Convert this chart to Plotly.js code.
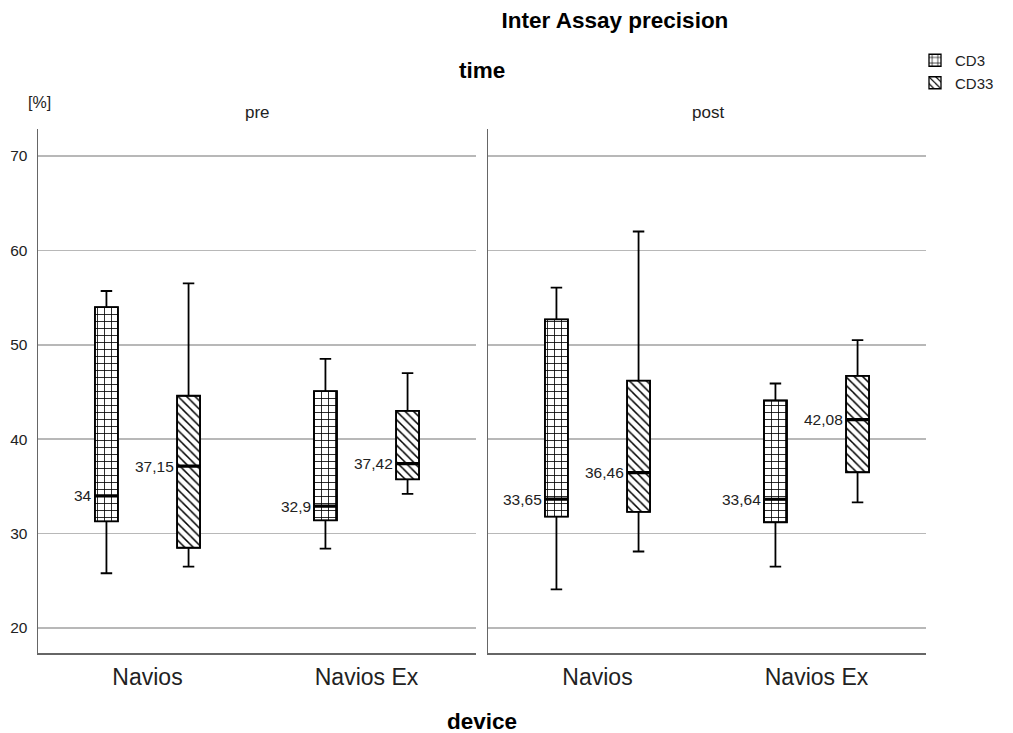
<!DOCTYPE html>
<html>
<head>
<meta charset="utf-8">
<script src="https://cdn.plot.ly/plotly-3.0.1.min.js"></script>
<style>html,body{margin:0;padding:0;background:#fff;}#chart{width:1013px;height:733px;}</style>
</head>
<body>
<div id="chart"></div>
<script>
// ---- data ----
const devices = ['Navios', 'Navios Ex'];
const markers = ['CD3', 'CD33'];
const times = ['pre', 'post'];

// pre, CD3
const preCD3_lower  = [25.8, 28.4];
const preCD3_q1     = [31.3, 31.4];
const preCD3_median = [34, 32.9];
const preCD3_q3     = [54.0, 45.1];
const preCD3_upper  = [55.7, 48.5];
// pre, CD33
const preCD33_lower  = [26.5, 34.2];
const preCD33_q1     = [28.5, 35.75];
const preCD33_median = [37.15, 37.42];
const preCD33_q3     = [44.6, 43.0];
const preCD33_upper  = [56.5, 47.0];
// post, CD3
const postCD3_lower  = [24.1, 26.5];
const postCD3_q1     = [31.8, 31.2];
const postCD3_median = [33.65, 33.64];
const postCD3_q3     = [52.7, 44.1];
const postCD3_upper  = [56.05, 45.9];
// post, CD33
const postCD33_lower  = [28.1, 33.3];
const postCD33_q1     = [32.3, 36.5];
const postCD33_median = [36.46, 42.08];
const postCD33_q3     = [46.2, 46.7];
const postCD33_upper  = [62.0, 50.5];

const yTicks = [20, 30, 40, 50, 60, 70];

// ---- build ----
const series = [
  {time: 'pre',  marker: 'CD3',  lower: preCD3_lower,  q1: preCD3_q1,  median: preCD3_median,  q3: preCD3_q3,  upper: preCD3_upper},
  {time: 'pre',  marker: 'CD33', lower: preCD33_lower, q1: preCD33_q1, median: preCD33_median, q3: preCD33_q3, upper: preCD33_upper},
  {time: 'post', marker: 'CD3',  lower: postCD3_lower, q1: postCD3_q1, median: postCD3_median, q3: postCD3_q3, upper: postCD3_upper},
  {time: 'post', marker: 'CD33', lower: postCD33_lower,q1: postCD33_q1,median: postCD33_median,q3: postCD33_q3,upper: postCD33_upper}
];

const patterns = {
  'CD3':  {shape: '+',  size: 7, solidity: 0.22, fgcolor: '#000', bgcolor: '#fff', fillmode: 'replace'},
  'CD33': {shape: '\\', size: 6, solidity: 0.25, fgcolor: '#000', bgcolor: '#fff', fillmode: 'replace'}
};

const FONT = 'Liberation Sans, Arial, sans-serif';
const traces = [];
const legendShown = {};
const axesOf = t => t === 'pre' ? {x: 'x', y: 'y'} : {x: 'x2', y: 'y2'};

// patterned IQR bars (drawn first)
series.forEach(s => {
  const ax = axesOf(s.time);
  traces.push({
    type: 'bar',
    x: devices,
    base: s.q1,
    y: s.q3.map((v, i) => v - s.q1[i]),
    xaxis: ax.x, yaxis: ax.y,
    offsetgroup: s.marker,
    name: s.marker,
    legendgroup: s.marker,
    showlegend: !legendShown[s.marker],
    marker: {color: '#fff', pattern: patterns[s.marker], line: {color: '#000', width: 1.3}},
    hoverinfo: 'skip'
  });
  legendShown[s.marker] = true;
});

// box outlines and whiskers
series.forEach(s => {
  const ax = axesOf(s.time);
  traces.push({
    type: 'box',
    x: devices,
    q1: s.q1, median: s.median, q3: s.q3,
    lowerfence: s.lower, upperfence: s.upper,
    xaxis: ax.x, yaxis: ax.y,
    offsetgroup: s.marker,
    name: s.marker,
    showlegend: false,
    boxpoints: false,
    fillcolor: 'rgba(0,0,0,0)',
    line: {color: '#000', width: 1.8},
    whiskerwidth: 0.5
  });
});

// thick median lines (a flat box at the median)
series.forEach(s => {
  const ax = axesOf(s.time);
  traces.push({
    type: 'box',
    x: devices,
    q1: s.median, median: s.median, q3: s.median,
    lowerfence: s.median, upperfence: s.median,
    xaxis: ax.x, yaxis: ax.y,
    offsetgroup: s.marker,
    name: s.marker + ' median',
    showlegend: false,
    boxpoints: false,
    fillcolor: 'rgba(0,0,0,0)',
    line: {color: '#000', width: 3.2},
    whiskerwidth: 0
  });
});

// median labels
const annotations = [];
series.forEach(s => {
  const ax = axesOf(s.time);
  s.median.forEach((m, i) => {
    annotations.push({
      x: devices[i], y: m, xref: ax.x, yref: ax.y,
      text: String(m).replace('.', ','),
      showarrow: false, xanchor: 'right', yanchor: 'middle',
      xshift: s.marker === 'CD3' ? -54 : 28,
      font: {family: FONT, size: 15.5, color: '#222'}
    });
  });
});

// facet labels and titles
annotations.push(
  {text: '<b>time</b>', xref: 'paper', yref: 'paper', x: (482 - 38) / 888, y: (653 - 70) / 524, showarrow: false, xanchor: 'center', yanchor: 'middle', font: {family: FONT, size: 22.5, color: '#000'}},
  {text: 'pre', xref: 'paper', yref: 'paper', x: (257 - 38) / 888, y: (653 - 112) / 524, showarrow: false, xanchor: 'center', yanchor: 'middle', font: {family: FONT, size: 17, color: '#222'}},
  {text: 'post', xref: 'paper', yref: 'paper', x: (708 - 38) / 888, y: (653 - 112) / 524, showarrow: false, xanchor: 'center', yanchor: 'middle', font: {family: FONT, size: 17, color: '#222'}},
  {text: '[%]', xref: 'paper', yref: 'paper', x: (39 - 38) / 888, y: (653 - 103) / 524, showarrow: false, xanchor: 'center', yanchor: 'middle', font: {family: FONT, size: 16, color: '#222'}},
  {text: '<b>device</b>', xref: 'paper', yref: 'paper', x: (482 - 38) / 888, y: (653 - 721) / 524, showarrow: false, xanchor: 'center', yanchor: 'middle', font: {family: FONT, size: 22.5, color: '#000'}}
);

const xCommon = {
  type: 'category',
  categoryorder: 'array', categoryarray: devices,
  range: [-0.5, 1.5],
  showgrid: false, zeroline: false,
  showline: true, linecolor: '#666', linewidth: 1.5,
  ticks: '', ticklabelstandoff: 3,
  tickfont: {family: FONT, size: 23, color: '#222'},
  fixedrange: true
};

const yCommon = {
  domain: [0, 1],
  range: [17.35, 72.86],
  tickvals: yTicks, ticktext: yTicks.map(String),
  showgrid: true, gridcolor: '#b8b8b8', gridwidth: 1.5,
  zeroline: false, showline: true, linecolor: '#666', linewidth: 1.5,
  ticks: '', ticklabelstandoff: 6,
  tickfont: {family: FONT, size: 15.5, color: '#222'},
  fixedrange: true
};

const layout = {
  width: 1013, height: 733,
  paper_bgcolor: '#fff', plot_bgcolor: '#fff',
  margin: {l: 38, r: 87, t: 129, b: 80, pad: 0},
  title: {text: '<b>Inter Assay precision</b>', x: 615 / 1013, xanchor: 'center', y: 1 - 20 / 733, yanchor: 'middle', font: {family: FONT, size: 22.5, color: '#000'}},
  boxmode: 'group', boxgap: 0.25, boxgroupgap: 0.72,
  barmode: 'group', bargap: 0.25, bargroupgap: 0.72,
  xaxis: Object.assign({}, xCommon, {domain: [0, 438 / 888], anchor: 'y'}),
  xaxis2: Object.assign({}, xCommon, {domain: [450 / 888, 1], anchor: 'y2'}),
  yaxis: Object.assign({}, yCommon, {anchor: 'x'}),
  yaxis2: Object.assign({}, yCommon, {anchor: 'x2', matches: 'y', showticklabels: false}),
  showlegend: true,
  legend: {
    x: (915 - 38) / 888, xanchor: 'left',
    y: (653 - 44) / 524, yanchor: 'top',
    font: {family: FONT, size: 15, color: '#222'},
    bgcolor: 'rgba(0,0,0,0)', tracegroupgap: 0,
    traceorder: 'normal', itemwidth: 30
  },
  annotations: annotations
};

Plotly.newPlot('chart', traces, layout, {displayModeBar: false, staticPlot: true});
</script>
</body>
</html>
